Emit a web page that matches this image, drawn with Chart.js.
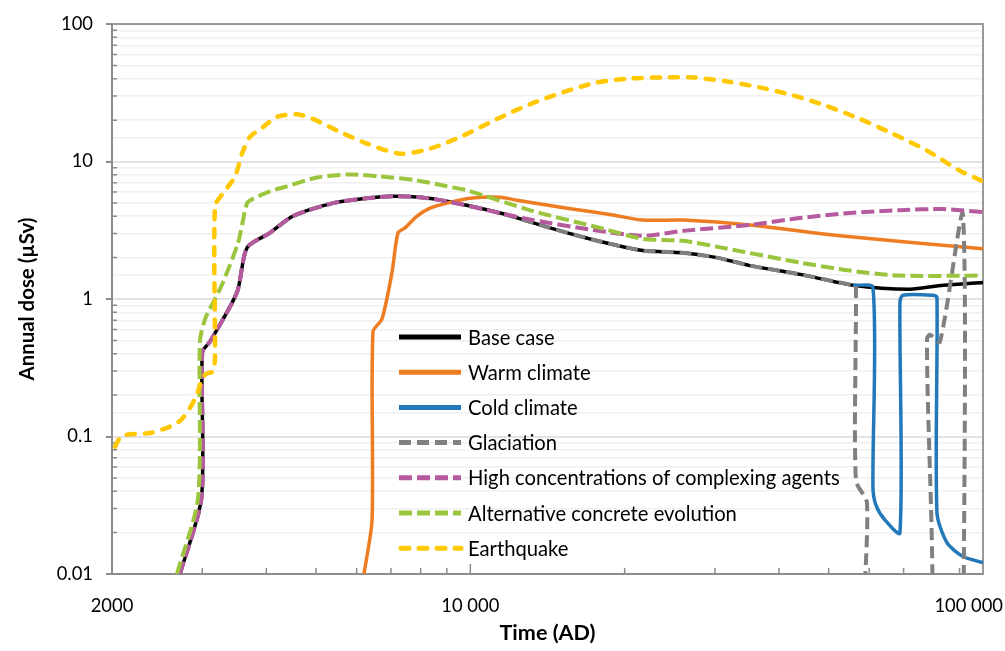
<!DOCTYPE html>
<html><head><meta charset="utf-8">
<script src="https://cdn.jsdelivr.net/npm/chart.js@4.4.1/dist/chart.umd.min.js"></script>
<style>html,body{margin:0;padding:0;background:#fff}#wrap{width:1005px;height:651px;position:relative}</style>
</head><body><div id="wrap"><canvas id="c"></canvas></div>
<script>
// ---------- DATA ----------
const seriesNames = ['Base case','Warm climate','Cold climate','Glaciation','High concentrations of complexing agents','Alternative concrete evolution','Earthquake'];

const baseX = [2714, 2990, 3000, 3106, 3507, 3668, 4066, 4509, 5396, 6288, 7065, 7960, 9000, 11430, 14300, 17350, 21700, 25990, 30270, 35100, 43960, 55760, 72050, 83550, 100000];
const baseY = [0.01, 0.036, 0.41, 0.49, 1.12, 2.36, 3.03, 4.01, 4.98, 5.41, 5.59, 5.5, 5.14, 4.22, 3.29, 2.70, 2.25, 2.17, 2.0, 1.75, 1.51, 1.26, 1.18, 1.26, 1.32];

const warmX = [6202, 6431, 6457, 6724, 7034, 7226, 7458, 7870, 8344, 9000, 10000, 11430, 12330, 15440, 18980, 21700, 25990, 35100, 52600, 100000];
const warmY = [0.01, 0.0247, 0.577, 0.715, 1.56, 3.03, 3.29, 4.01, 4.58, 4.98, 5.41, 5.5, 5.23, 4.58, 4.08, 3.75, 3.75, 3.46, 2.88, 2.32];

const coldX = [55760, 61000, 61000, 61820, 64380, 68860, 68860, 69780, 79880, 81320, 81320, 85050, 91400, 100000];
const coldY = [1.26, 1.21, 0.0427, 0.0317, 0.0247, 0.0199, 0.948, 1.065, 1.065, 1.03, 0.0278, 0.0169, 0.0134, 0.0121];

const glacX = [2714, 2990, 3000, 3106, 3507, 3668, 4066, 4509, 5396, 6288, 7065, 7960, 9000, 11430, 14300, 17350, 21700, 25990, 30270, 35100, 43960, 55760, 56500, 56500, 59390, 59390, 77770, 77770, 78800, 82420, 91400, 91400];
const glacY = [0.01, 0.036, 0.41, 0.49, 1.12, 2.36, 3.03, 4.01, 4.98, 5.41, 5.59, 5.5, 5.14, 4.22, 3.29, 2.70, 2.25, 2.17, 2.0, 1.75, 1.51, 1.26, 1.25, 0.048, 0.0328, 0.001, 0.001, 0.514, 0.549, 0.489, 4.08, 0.001];

const complexX = [2714, 2990, 3000, 3106, 3507, 3668, 4066, 4509, 5396, 6288, 7065, 7960, 9000, 11430, 13250, 17350, 21700, 25990, 35100, 43960, 55000, 68860, 83550, 100000];
const complexY = [0.01, 0.036, 0.41, 0.49, 1.12, 2.36, 3.03, 4.01, 4.98, 5.41, 5.59, 5.5, 5.14, 4.22, 3.75, 3.18, 2.88, 3.13, 3.46, 3.88, 4.22, 4.43, 4.51, 4.29];

const concreteX = [2678, 2944, 2968, 3038, 3176, 3292, 3522, 3668, 3752, 4066, 4389, 5022, 5824, 6665, 7870, 9000, 9853, 13250, 17900, 21700, 25990, 32520, 43960, 55000, 68860, 100000];
const concreteY = [0.01, 0.036, 0.489, 0.715, 1.0, 1.32, 2.56, 4.98, 5.32, 6.07, 6.6, 7.66, 8.05, 7.78, 7.29, 6.6, 6.17, 4.36, 3.29, 2.74, 2.65, 2.28, 1.84, 1.61, 1.48, 1.48];

const quakeX = [2027, 2091, 2372, 2560, 2714, 2838, 2930, 3000, 3064, 3148, 3176, 3176, 3292, 3476, 3586, 3717, 3940, 4196, 4589, 4932, 5570, 6288, 7290, 8344, 9674, 11270, 13070, 15160, 17660, 20480, 23760, 27180, 31660, 36720, 42600, 49620, 57540, 66740, 77770, 90000, 100000];
const quakeY = [0.0843, 0.101, 0.106, 0.1156, 0.13, 0.161, 0.203, 0.265, 0.288, 0.297, 0.369, 4.74, 5.87, 7.78, 11.4, 15.1, 17.8, 21.1, 22.1, 20.4, 16.4, 13.5, 11.4, 12.4, 15.4, 20.4, 26.1, 31.9, 37.6, 40.2, 40.9, 40.9, 38.2, 34.6, 30.3, 25.3, 20.4, 15.9, 12.0, 8.6, 7.17];

const xTickValues = [2000, 10000, 100000];
const xTickLabels = ['2000', '10 000', '100 000'];
const xMinorTicks = [3000, 4000, 5000, 6000, 7000, 8000, 9000, 20000, 30000, 40000, 50000, 60000, 70000, 80000, 90000];
const yTickValues = [0.01, 0.1, 1, 10, 100];
const yTickLabels = ['0.01', '0.1', '1', '10', '100'];
const xTitle = 'Time (AD)';
const yTitle = 'Annual dose (µSv)';

// ---------- STYLE ----------
const FONT = 'Lato, "Open Sans", sans-serif';
const AXIS = '#8c8c8c';
const mctx = document.createElement('canvas').getContext('2d');
function fitSize(text, weight, target){
  mctx.font = weight + ' 100px ' + FONT;
  return 100 * target / mctx.measureText(text).width;
}
const tickSize = fitSize('10 000', 'normal', 58);
const xTitleSize = fitSize(xTitle, 'bold', 96);
const yTitleSize = fitSize(yTitle, 'bold', 163);
const legendSize = fitSize(seriesNames[4], 'normal', 372);

const styles = [
  {color:'#000000', width:3.5, dash:[], cap:'butt'},
  {color:'#EE7D22', width:3.5, dash:[], cap:'butt'},
  {color:'#2278B8', width:3.5, dash:[], cap:'butt'},
  {color:'#808080', width:4, dash:[12,6], cap:'butt'},
  {color:'#B65AA0', width:4, dash:[13,5], cap:'butt'},
  {color:'#9BC53D', width:4, dash:[13,5], cap:'butt'},
  {color:'#FFC800', width:4.5, dash:[8,10], cap:'round'}
];
const pairs = [[baseX,baseY],[warmX,warmY],[coldX,coldY],[glacX,glacY],[complexX,complexY],[concreteX,concreteY],[quakeX,quakeY]];

const datasets = pairs.map((p,i)=>({
  label: seriesNames[i],
  data: p[0].map((x,j)=>({x:x, y:p[1][j]})),
  borderColor: styles[i].color,
  backgroundColor: styles[i].color,
  borderWidth: styles[i].width,
  borderDash: styles[i].dash,
  borderCapStyle: styles[i].cap,
  borderJoinStyle: 'round',
  pointRadius: 0,
  tension: 0.25,
  fill: false,
  order: 7 - i
}));

function isMajor(v){ const e = Math.log10(v); return Math.abs(e - Math.round(e)) < 1e-6; }

const decor = {
  id: 'decor',
  beforeDatasetsDraw(chart){
    const {ctx, chartArea:a, scales:{x, y}} = chart;
    ctx.save();
    ctx.strokeStyle = AXIS;
    ctx.lineWidth = 1.5;
    ctx.beginPath();
    for (let d=-2; d<2; d++) for (let m=2; m<10; m++){
      const py = y.getPixelForValue(m*Math.pow(10,d));
      ctx.moveTo(a.left, py); ctx.lineTo(a.left+5, py);
    }
    for (const v of xMinorTicks){
      const px = x.getPixelForValue(v);
      ctx.moveTo(px, a.bottom); ctx.lineTo(px, a.bottom-6);
    }
    for (const v of xTickValues){
      const px = x.getPixelForValue(v);
      ctx.moveTo(px, a.bottom); ctx.lineTo(px, a.bottom-10);
    }
    ctx.stroke();
    ctx.lineWidth = 2;
    ctx.strokeStyle = '#999999';
    ctx.strokeRect(a.left, a.top, a.right-a.left, a.bottom-a.top);
    ctx.strokeStyle = AXIS;
    ctx.beginPath();
    ctx.moveTo(a.left, a.top); ctx.lineTo(a.left, a.bottom); ctx.lineTo(a.right, a.bottom);
    ctx.stroke();
    ctx.restore();
  },
  afterDatasetsDraw(chart){
    const {ctx, scales:{x}} = chart;
    ctx.save();
    // x tick labels
    ctx.font = tickSize.toFixed(2) + 'px ' + FONT;
    ctx.fillStyle = '#000';
    ctx.textBaseline = 'middle';
    ctx.textAlign = 'left';
    xTickValues.forEach((v,i)=>{
      const w = ctx.measureText(xTickLabels[i]).width;
      let left = x.getPixelForValue(v) - w/2;
      if (left + w > chart.width - 2) left = chart.width - 2 - w;
      ctx.fillText(xTickLabels[i], left, 606);
    });
    // legend
    ctx.font = legendSize.toFixed(2) + 'px ' + FONT;
    const lx0 = 399, lx1 = 461, tx = 468, y0 = 337, dy = 35.2;
    chart.data.datasets.forEach((ds,i)=>{
      const yy = y0 + i*dy;
      ctx.save();
      ctx.strokeStyle = ds.borderColor;
      ctx.lineWidth = 5;
      ctx.setLineDash(ds.borderDash);
      ctx.lineCap = ds.borderCapStyle;
      ctx.beginPath();
      ctx.moveTo(lx0 + (ds.borderCapStyle==='round'?2:0), yy); ctx.lineTo(lx1, yy);
      ctx.stroke();
      ctx.restore();
      ctx.fillStyle = '#000';
      ctx.textAlign = 'left';
      ctx.textBaseline = 'middle';
      ctx.fillText(ds.label, tx, yy + 1);
    });
    ctx.restore();
  }
};

new Chart(document.getElementById('c'), {
  type: 'line',
  data: { datasets },
  options: {
    responsive: true,
    maintainAspectRatio: false,
    animation: false,
    events: [],
    layout: { padding: { top: 19, right: 22, left: 0, bottom: 0 } },
    plugins: { legend: { display: false }, tooltip: { enabled: false } },
    scales: {
      x: {
        type: 'logarithmic', min: 2000, max: 100000,
        grid: { display: false },
        border: { display: false },
        ticks: { display: false },
        title: { display: true, text: xTitle, color: '#000', font: { family: FONT, size: xTitleSize, weight: 'bold', lineHeight: 1.2 }, padding: { top: 4, bottom: 5 } },
        afterFit(s){ s.height = 77; }
      },
      y: {
        type: 'logarithmic', min: 0.01, max: 100,
        border: { display: false },
        grid: {
          color: (c)=> (c.tick && isMajor(c.tick.value)) ? '#e3e3e3' : '#f0f0f0',
          lineWidth: (c)=> (c.tick && isMajor(c.tick.value)) ? 2 : 1.5,
          tickColor: (c)=> (c.tick && isMajor(c.tick.value)) ? AXIS : 'rgba(0,0,0,0)',
          tickLength: 6,
          drawTicks: true
        },
        ticks: {
          color: '#000',
          font: { family: FONT, size: tickSize },
          padding: 13,
          autoSkip: false,
          callback: (v)=> { const k = yTickValues.findIndex(t=>Math.abs(t-v)/t < 1e-6); return k >= 0 ? yTickLabels[k] : ''; }
        },
        title: { display: true, text: yTitle, color: '#000', font: { family: FONT, size: yTitleSize, weight: 'bold', lineHeight: 1.2 }, padding: { top: 15, bottom: 0 } },
        afterFit(s){ s.width = 112; }
      }
    }
  },
  plugins: [decor]
});
</script>
</body></html>
